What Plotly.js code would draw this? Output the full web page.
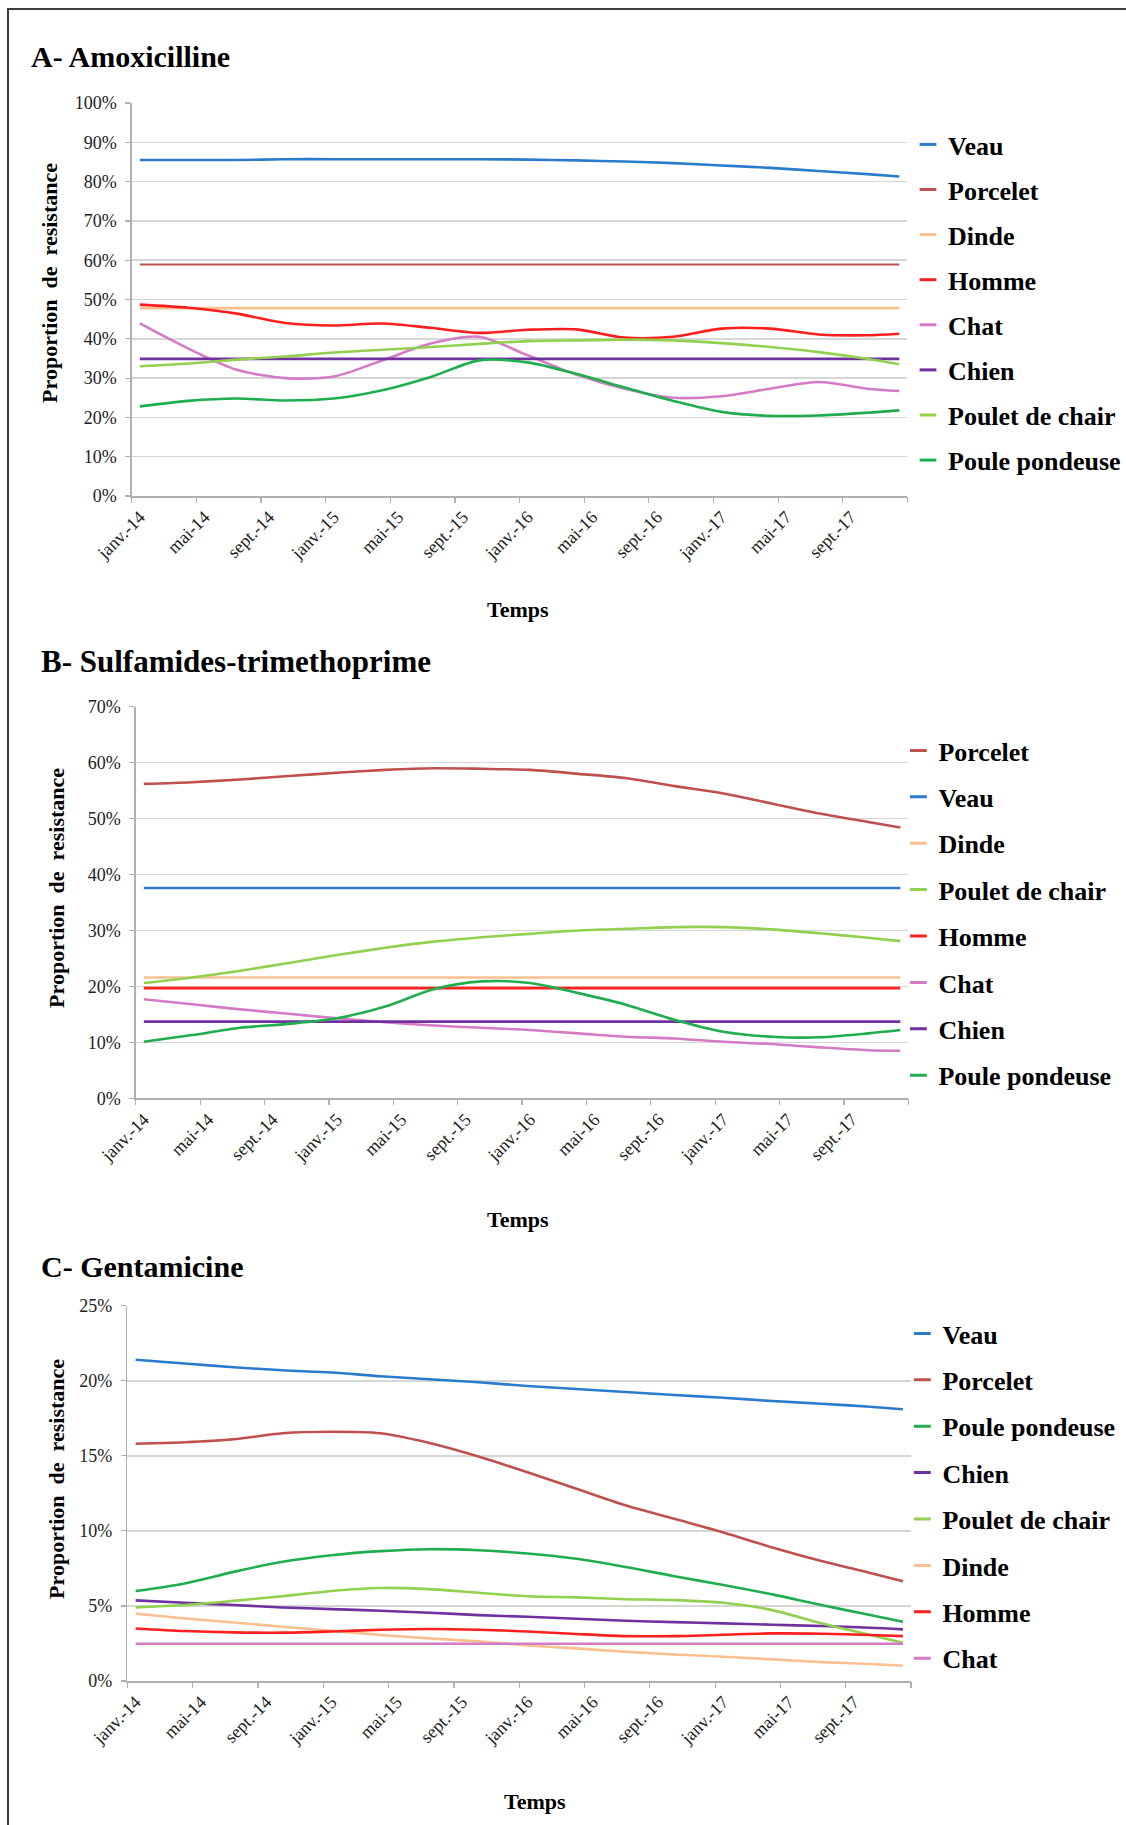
<!DOCTYPE html>
<html>
<head>
<meta charset="utf-8">
<script src="https://cdn.plot.ly/plotly-3.0.1.min.js"></script>
<style>
html, body { margin: 0; padding: 0; background: #ffffff; }
#chart { width: 1126px; height: 1825px; }
</style>
</head>
<body>
<div id="chart"></div>
<script>
// ---------- data ----------
// month index from janv.-14 (0) to déc.-17 (47), sampled every 3 months
const months = [0, 3, 6, 9, 12, 15, 18, 21, 24, 27, 30, 33, 36, 39, 42, 45, 47];
const tickMonths = [0, 4, 8, 12, 16, 20, 24, 28, 32, 36, 40, 44];
const tickLabels = ['janv.-14', 'mai-14', 'sept.-14', 'janv.-15', 'mai-15', 'sept.-15',
                    'janv.-16', 'mai-16', 'sept.-16', 'janv.-17', 'mai-17', 'sept.-17'];
const tickBounds = [-0.5, 3.5, 7.5, 11.5, 15.5, 19.5, 23.5, 27.5, 31.5, 35.5, 39.5, 43.5, 47.5];

// A- Amoxicilline (%)
const A_veau          = [85.5, 85.5, 85.5, 85.7, 85.7, 85.7, 85.7, 85.7, 85.6, 85.4, 85.1, 84.7, 84.1, 83.5, 82.7, 81.9, 81.3];
const A_porcelet      = [58.9, 58.9, 58.9, 58.9, 58.9, 58.9, 58.9, 58.9, 58.9, 58.9, 58.9, 58.9, 58.9, 58.9, 58.9, 58.9, 58.9];
const A_dinde         = [47.8, 47.8, 47.8, 47.8, 47.8, 47.8, 47.8, 47.8, 47.8, 47.8, 47.8, 47.8, 47.8, 47.8, 47.8, 47.8, 47.8];
const A_homme         = [48.7, 47.9, 46.4, 44.0, 43.4, 43.9, 42.8, 41.5, 42.3, 42.4, 40.3, 40.5, 42.6, 42.6, 41.1, 40.9, 41.3];
const A_chat          = [43.9, 37.5, 32.1, 30.0, 30.4, 34.5, 38.8, 40.5, 35.8, 30.9, 27.3, 25.0, 25.4, 27.3, 29.0, 27.3, 26.7];
const A_chien         = [34.9, 34.9, 34.9, 34.9, 34.9, 34.9, 34.9, 34.9, 34.9, 34.9, 34.9, 34.9, 34.9, 34.9, 34.9, 34.9, 34.9];
const A_pouletChair   = [33.0, 33.7, 34.7, 35.5, 36.5, 37.2, 37.9, 38.7, 39.4, 39.6, 39.8, 39.6, 38.9, 37.9, 36.6, 34.9, 33.5];
const A_poulePondeuse = [22.8, 24.2, 24.8, 24.3, 24.8, 26.9, 30.3, 34.5, 34.0, 31.1, 27.6, 24.2, 21.4, 20.4, 20.5, 21.2, 21.8];

// B- Sulfamides-trimethoprime (%)
const B_porcelet      = [56.2, 56.5, 57.0, 57.6, 58.2, 58.7, 59.0, 58.9, 58.7, 58.0, 57.2, 55.8, 54.5, 52.7, 50.9, 49.4, 48.4];
const B_veau          = [37.6, 37.6, 37.6, 37.6, 37.6, 37.6, 37.6, 37.6, 37.6, 37.6, 37.6, 37.6, 37.6, 37.6, 37.6, 37.6, 37.6];
const B_dinde         = [21.6, 21.6, 21.6, 21.6, 21.6, 21.6, 21.6, 21.6, 21.6, 21.6, 21.6, 21.6, 21.6, 21.6, 21.6, 21.6, 21.6];
const B_pouletChair   = [20.6, 21.6, 22.8, 24.2, 25.6, 26.9, 28.0, 28.8, 29.4, 30.0, 30.3, 30.6, 30.6, 30.2, 29.5, 28.7, 28.1];
const B_homme         = [19.7, 19.7, 19.7, 19.7, 19.7, 19.7, 19.7, 19.7, 19.7, 19.7, 19.7, 19.7, 19.7, 19.7, 19.7, 19.7, 19.7];
const B_chat          = [17.7, 16.8, 15.9, 15.1, 14.3, 13.6, 13.0, 12.6, 12.2, 11.6, 11.0, 10.7, 10.1, 9.7, 9.1, 8.6, 8.5];
const B_chien         = [13.7, 13.7, 13.7, 13.7, 13.7, 13.7, 13.7, 13.7, 13.7, 13.7, 13.7, 13.7, 13.7, 13.7, 13.7, 13.7, 13.7];
const B_poulePondeuse = [10.1, 11.3, 12.6, 13.3, 14.3, 16.4, 19.5, 20.9, 20.6, 18.8, 16.7, 14.0, 11.9, 11.0, 10.9, 11.6, 12.2];

// C- Gentamicine (%)
const C_veau          = [21.4, 21.15, 20.9, 20.7, 20.55, 20.3, 20.1, 19.9, 19.65, 19.45, 19.25, 19.05, 18.87, 18.65, 18.47, 18.27, 18.1];
const C_porcelet      = [15.8, 15.9, 16.1, 16.5, 16.6, 16.5, 15.85, 14.95, 13.9, 12.8, 11.7, 10.8, 9.9, 8.9, 8.0, 7.2, 6.65];
const C_poulePondeuse = [5.99, 6.5, 7.27, 7.94, 8.38, 8.65, 8.78, 8.71, 8.49, 8.14, 7.6, 6.98, 6.39, 5.77, 5.06, 4.39, 3.95];
const C_chien         = [5.37, 5.21, 5.06, 4.9, 4.79, 4.68, 4.55, 4.39, 4.28, 4.15, 4.01, 3.92, 3.84, 3.75, 3.66, 3.55, 3.44];
const C_pouletChair   = [4.9, 5.06, 5.34, 5.65, 6.0, 6.2, 6.12, 5.88, 5.65, 5.57, 5.45, 5.39, 5.21, 4.72, 3.84, 3.06, 2.55];
const C_dinde         = [4.5, 4.17, 3.9, 3.61, 3.35, 3.06, 2.84, 2.64, 2.37, 2.17, 1.95, 1.77, 1.62, 1.44, 1.26, 1.13, 1.02];
const C_homme         = [3.5, 3.33, 3.24, 3.22, 3.3, 3.41, 3.46, 3.41, 3.3, 3.13, 2.99, 2.99, 3.08, 3.17, 3.15, 3.06, 2.99];
const C_chat          = [2.48, 2.48, 2.48, 2.48, 2.48, 2.48, 2.48, 2.48, 2.48, 2.48, 2.48, 2.48, 2.48, 2.48, 2.48, 2.48, 2.48];

// ---------- styling ----------
const COLORS = {
  'Veau': '#2b7bcc',
  'Porcelet': '#c0504d',
  'Dinde': '#fac090',
  'Homme': '#ff1f1f',
  'Chat': '#d47bc6',
  'Chien': '#7030a0',
  'Poulet de chair': '#92d050',
  'Poule pondeuse': '#1fad4e'
};
const SERIF = 'Liberation Serif, Times New Roman, serif';
const W = 1126, H = 1825;
const fx = p => p / W;
const fy = p => 1 - p / H;

const charts = [
  {
    key: 'A', title: 'A- Amoxicilline',
    x: 'x', y: 'y', tx: 'x4', yMax: 100, dtick: 10,
    box: [132, 103, 909, 496],
    series: [['Veau', A_veau], ['Porcelet', A_porcelet], ['Dinde', A_dinde], ['Homme', A_homme],
             ['Chat', A_chat], ['Chien', A_chien], ['Poulet de chair', A_pouletChair], ['Poule pondeuse', A_poulePondeuse]],
    titlePos: [29, 56], yTitlePos: [49, 283], xTitlePos: [519, 610],
    legendPos: [910, 121], legendGap: 8.3, legendId: 'legend'
  },
  {
    key: 'B', title: 'B- Sulfamides-trimethoprime',
    x: 'x2', y: 'y2', tx: 'x5', yMax: 70, dtick: 10,
    box: [136, 706.7, 910, 1098.3],
    series: [['Porcelet', B_porcelet], ['Veau', B_veau], ['Dinde', B_dinde], ['Poulet de chair', B_pouletChair],
             ['Homme', B_homme], ['Chat', B_chat], ['Chien', B_chien], ['Poule pondeuse', B_poulePondeuse]],
    titlePos: [39, 661], yTitlePos: [56, 888], xTitlePos: [519, 1219],
    legendPos: [900, 727], legendGap: 9.6, legendId: 'legend2'
  },
  {
    key: 'C', title: 'C- Gentamicine',
    x: 'x3', y: 'y3', tx: 'x6', yMax: 25, dtick: 5,
    box: [127.7, 1305.7, 912.7, 1681],
    series: [['Veau', C_veau], ['Porcelet', C_porcelet], ['Poule pondeuse', C_poulePondeuse], ['Chien', C_chien],
             ['Poulet de chair', C_pouletChair], ['Dinde', C_dinde], ['Homme', C_homme], ['Chat', C_chat]],
    titlePos: [39, 1266], yTitlePos: [56, 1479], xTitlePos: [536, 1801],
    legendPos: [904, 1310], legendGap: 9.6, legendId: 'legend3'
  }
];

const axName = id => id === 'x' ? 'xaxis' : 'xaxis' + id.slice(1);
const ayName = id => id === 'y' ? 'yaxis' : 'yaxis' + id.slice(1);

const traces = [];
const layout = {
  width: W, height: H,
  margin: {l: 0, r: 0, t: 0, b: 0},
  paper_bgcolor: '#ffffff', plot_bgcolor: '#ffffff',
  showlegend: true,
  font: {family: SERIF, color: '#000000'},
  annotations: [],
  shapes: [{
    type: 'rect', xref: 'paper', yref: 'paper',
    x0: fx(8), x1: 1.02, y0: -0.02, y1: fy(9),
    line: {color: '#3c3c3c', width: 2}, fillcolor: 'rgba(0,0,0,0)'
  }]
};

charts.forEach(c => {
  const [x0, y0, x1, y1] = c.box;
  // data lines
  c.series.forEach(([name, vals]) => {
    traces.push({
      type: 'scatter', mode: 'lines', name: name,
      x: months, y: vals, xaxis: c.x, yaxis: c.y,
      showlegend: false, hoverinfo: 'skip',
      line: {color: COLORS[name], width: (c.key === 'A' && name === 'Porcelet') ? 2 : 2.6, shape: 'spline', smoothing: 0.8}
    });
  });
  // legend entries (short dash symbols)
  c.series.forEach(([name]) => {
    traces.push({
      type: 'scatter', mode: 'markers', name: name,
      x: [null], y: [null], xaxis: c.tx, yaxis: c.y,
      legend: c.legendId, legendgroup: c.key + name, showlegend: true, hoverinfo: 'skip',
      marker: {symbol: 'line-ew', size: 12, color: COLORS[name], line: {color: COLORS[name], width: 3}}
    });
  });

  layout[axName(c.x)] = {
    domain: [fx(x0), fx(x1)], anchor: c.y,
    range: [-0.5, 47.5], fixedrange: true,
    tickmode: 'array', tickvals: tickMonths, ticktext: tickLabels,
    ticks: '', tickangle: -45, ticklabelstandoff: 2,
    tickfont: {family: SERIF, size: 18, color: '#222222'},
    showgrid: false, zeroline: false,
    showline: true, linecolor: '#b0b0b0', linewidth: 1.5
  };
  layout[axName(c.tx)] = {
    overlaying: c.x, anchor: c.y,
    range: [-0.5, 47.5], fixedrange: true,
    tickmode: 'array', tickvals: tickBounds,
    ticks: 'outside', ticklen: 6, tickwidth: 1.2, tickcolor: '#b0b0b0',
    showticklabels: false, showgrid: false, zeroline: false, showline: false
  };
  layout[ayName(c.y)] = {
    domain: [fy(y1), fy(y0)], anchor: c.x,
    range: [0, c.yMax], dtick: c.dtick, tick0: 0, fixedrange: true,
    ticksuffix: '%',
    ticks: 'outside', ticklen: 5, tickwidth: 1.2, tickcolor: '#b0b0b0', ticklabelstandoff: 5,
    tickfont: {family: SERIF, size: 18, color: '#222222'},
    showgrid: true, gridcolor: '#d6d6d6', gridwidth: 1.5,
    zeroline: false, showline: true, linecolor: '#b0b0b0', linewidth: 1.5
  };
  layout[c.legendId] = {
    x: fx(c.legendPos[0]), y: fy(c.legendPos[1]), xanchor: 'left', yanchor: 'top',
    xref: 'paper', yref: 'paper',
    bgcolor: 'rgba(0,0,0,0)', borderwidth: 0,
    font: {family: SERIF, size: 26, weight: 'bold', color: '#000000'},
    tracegroupgap: c.legendGap, itemclick: false, itemdoubleclick: false
  };

  layout.annotations.push({
    xref: 'paper', yref: 'paper', x: fx(c.titlePos[0]), y: fy(c.titlePos[1]),
    xanchor: 'left', yanchor: 'middle', showarrow: false, text: c.title,
    font: {family: SERIF, size: c.key === 'B' ? 31 : 30, weight: 'bold', color: '#000000'}
  });
  layout.annotations.push({
    xref: 'paper', yref: 'paper', x: fx(c.yTitlePos[0]), y: fy(c.yTitlePos[1]),
    xanchor: 'center', yanchor: 'middle', showarrow: false, textangle: -90,
    text: 'Proportion&nbsp; de&nbsp; resistance',
    font: {family: SERIF, size: 22, weight: 'bold', color: '#000000'}
  });
  layout.annotations.push({
    xref: 'paper', yref: 'paper', x: fx(c.xTitlePos[0]), y: fy(c.xTitlePos[1]),
    xanchor: 'center', yanchor: 'middle', showarrow: false, text: 'Temps',
    font: {family: SERIF, size: 22, weight: 'bold', color: '#000000'}
  });
});

Plotly.newPlot('chart', traces, layout, {staticPlot: true, displayModeBar: false});
</script>
</body>
</html>
